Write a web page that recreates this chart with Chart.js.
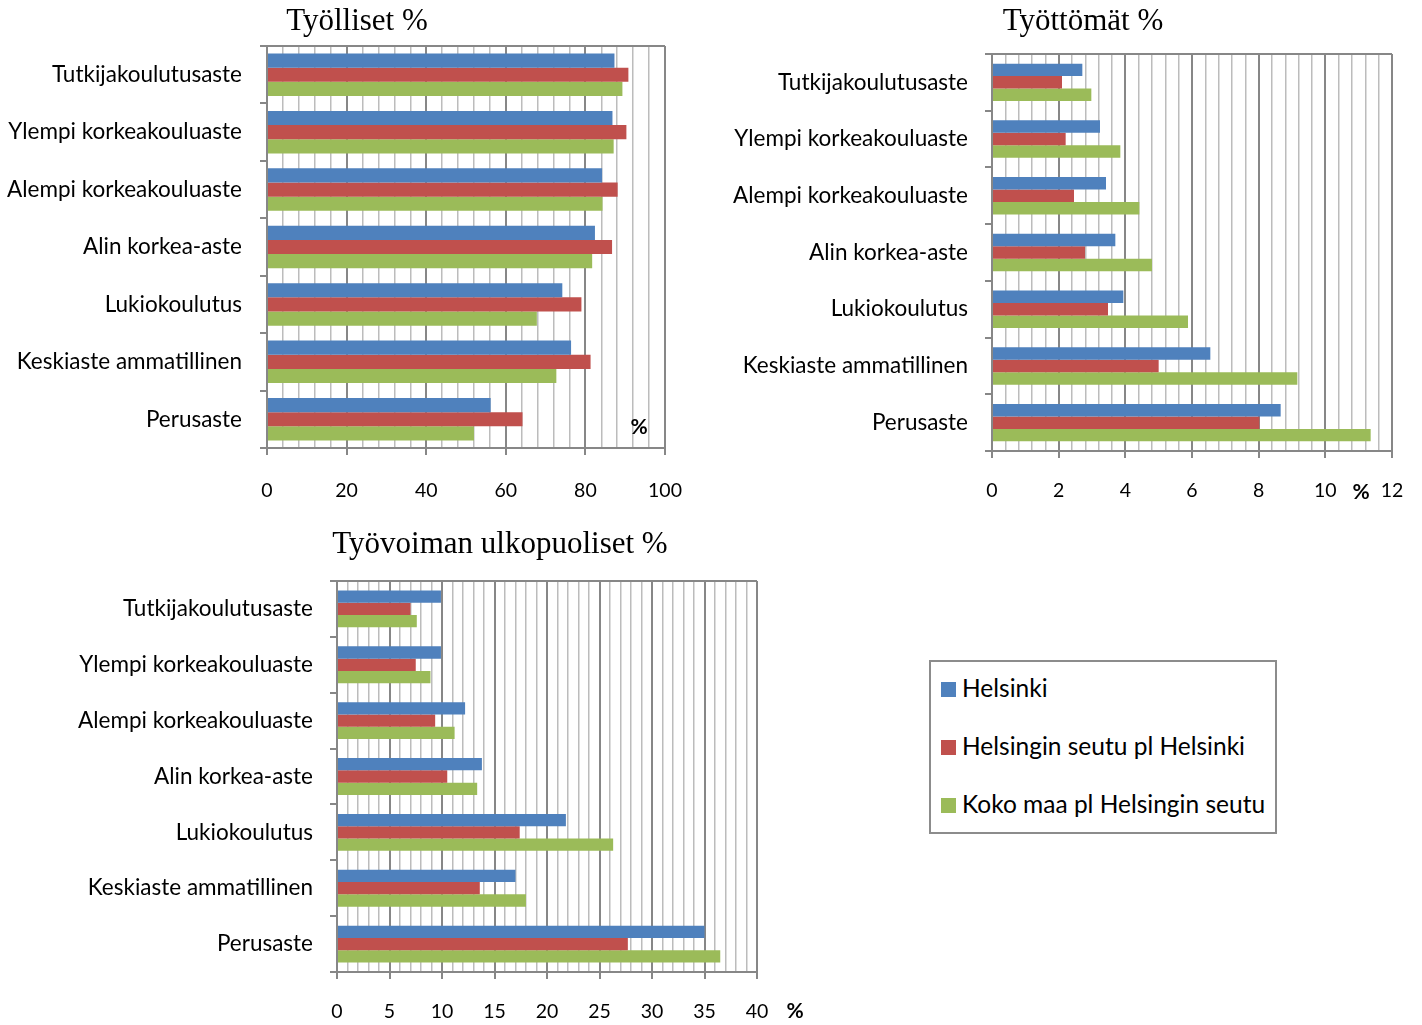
<!DOCTYPE html>
<html><head><meta charset="utf-8">
<script src="https://cdn.jsdelivr.net/npm/chart.js@4.4.0/dist/chart.umd.min.js"></script>
<style>
html,body{margin:0;padding:0;background:#fff;}
body{width:1422px;height:1025px;position:relative;overflow:hidden;font-family:Lato,sans-serif;color:#000;}
canvas{position:absolute;}
.title{position:absolute;font-family:"Liberation Serif",serif;font-size:31px;line-height:31px;white-space:nowrap;transform:translateX(-50%);}
.pct{position:absolute;font-family:Lato,sans-serif;font-weight:bold;font-size:21px;line-height:21px;transform:translate(-50%,-50%);}
#legendBox{position:absolute;left:929px;top:660px;width:348px;height:174px;box-sizing:border-box;border:2px solid #8c8c8c;}
.lsq{position:absolute;width:15px;height:15px;}
.ltx{position:absolute;font-family:Lato,sans-serif;font-size:24.5px;line-height:24px;white-space:nowrap;}
</style>
</head><body>
<canvas id="c1" width="700" height="520" style="left:0;top:0;width:700px;height:520px"></canvas>
<canvas id="c2" width="702" height="520" style="left:720px;top:0;width:702px;height:520px"></canvas>
<canvas id="c3" width="800" height="505" style="left:0;top:520px;width:800px;height:505px"></canvas>
<div class="title" style="left:357px;top:4px">Työlliset %</div>
<div class="title" style="left:1083px;top:4px">Työttömät %</div>
<div class="title" style="left:500px;top:527px">Työvoiman ulkopuoliset %</div>
<div class="pct" style="left:639px;top:425px">%</div>
<div class="pct" style="left:1361px;top:490px">%</div>
<div class="pct" style="left:795px;top:1009px">%</div>
<div id="legendBox"></div>
<div id="legendItems"></div>
<script>
const categories = ['Tutkijakoulutusaste','Ylempi korkeakouluaste','Alempi korkeakouluaste','Alin korkea-aste','Lukiokoulutus','Keskiaste ammatillinen','Perusaste'];
const seriesNames = ['Helsinki','Helsingin seutu pl Helsinki','Koko maa pl Helsingin seutu'];
const seriesColors = ['#4F81BD','#C0504D','#9BBB59'];

const tyollisetHelsinki = [87.3,86.8,84.2,82.4,74.2,76.4,56.2];
const tyollisetSeutu    = [90.8,90.3,88.1,86.7,79.0,81.3,64.2];
const tyollisetKokoMaa  = [89.3,87.1,84.3,81.7,67.8,72.7,52.0];

const tyottomatHelsinki = [2.71,3.24,3.42,3.70,3.94,6.55,8.66];
const tyottomatSeutu    = [2.10,2.21,2.46,2.79,3.48,5.00,8.02];
const tyottomatKokoMaa  = [2.98,3.85,4.42,4.80,5.88,9.16,11.36];

const ulkopuolisetHelsinki = [9.9,9.9,12.2,13.8,21.8,17.0,35.0];
const ulkopuolisetSeutu    = [7.0,7.5,9.35,10.5,17.4,13.6,27.7];
const ulkopuolisetKokoMaa  = [7.6,8.9,11.2,13.35,26.3,18.0,36.5];

const tyollisetTicks = [0,20,40,60,80,100];
const tyottomatTicks = [0,2,4,6,8,10,12];
const ulkopuolisetTicks = [0,5,10,15,20,25,30,35,40];

const GRID_MAJOR = '#878787';
const GRID_MINOR = '#bcbcbc';
const FONT = 'Lato';

const framePlugin = {
  id:'frame',
  afterDraw(chart){
    const a = chart.chartArea, ctx = chart.ctx;
    ctx.save();
    ctx.strokeStyle = GRID_MAJOR; ctx.lineWidth = 2;
    ctx.beginPath(); ctx.moveTo(a.left, a.top); ctx.lineTo(a.right, a.top); ctx.stroke();
    ctx.restore();
  }
};

function makeChart(id, values, majorTicks, minorStep, box, barPct){
  const majorStep = majorTicks[1]-majorTicks[0];
  const isMajor = v => Math.abs(v/majorStep - Math.round(v/majorStep)) < 1e-6;
  new Chart(document.getElementById(id), {
    type:'bar',
    data:{
      labels:categories,
      datasets: values.map((v,i)=>({label:seriesNames[i], data:v, backgroundColor:seriesColors[i], borderWidth:0, categoryPercentage:barPct, barPercentage:1}))
    },
    options:{
      indexAxis:'y', responsive:false, animation:false, devicePixelRatio:1,
      layout:{padding:{top:box.top, right:box.right, left:0, bottom:0}},
      plugins:{legend:{display:false}, tooltip:{enabled:false}},
      scales:{
        x:{
          type:'linear', min:majorTicks[0], max:majorTicks[majorTicks.length-1],
          ticks:{stepSize:minorStep, maxTicksLimit:1000, autoSkip:false, maxRotation:0, minRotation:0,
            callback:v => isMajor(v) ? String(Math.round(v)) : '',
            font:{family:FONT, size:19.5}, color:'#000', padding:box.xpad},
          grid:{
            color:c => (c.tick && !isMajor(c.tick.value)) ? GRID_MINOR : GRID_MAJOR,
            lineWidth:c => (c.tick && !isMajor(c.tick.value)) ? 1.5 : 2,
            tickColor:c => (c.tick && !isMajor(c.tick.value)) ? 'rgba(0,0,0,0)' : GRID_MAJOR,
            tickLength:7, drawTicks:true
          },
          border:{display:true, color:GRID_MAJOR, width:2},
          afterFit(s){ s.height = box.xh; s.paddingLeft = 0; s.paddingRight = 0; }
        },
        y:{
          type:'category', offset:true,
          grid:{offset:true, drawOnChartArea:false, drawTicks:true, tickLength:7, color:GRID_MAJOR, tickColor:GRID_MAJOR, lineWidth:2},
          border:{display:true, color:GRID_MAJOR, width:2},
          ticks:{font:{family:FONT, size:22.5}, color:'#000', padding:box.ypad, autoSkip:false},
          afterFit(s){ s.width = box.yw; s.paddingTop = 0; s.paddingBottom = 0; }
        }
      }
    },
    plugins:[framePlugin]
  });
}

makeChart('c1', [tyollisetHelsinki, tyollisetSeutu, tyollisetKokoMaa], tyollisetTicks, 4,
  {top:46, right:35, xh:72, yw:267, xpad:24, ypad:18}, 0.74);
makeChart('c2', [tyottomatHelsinki, tyottomatSeutu, tyottomatKokoMaa], tyottomatTicks, 0.4,
  {top:54, right:30, xh:69, yw:272, xpad:21, ypad:17}, 0.66);
makeChart('c3', [ulkopuolisetHelsinki, ulkopuolisetSeutu, ulkopuolisetKokoMaa], ulkopuolisetTicks, 1,
  {top:61, right:43, xh:53, yw:337, xpad:21, ypad:17}, 0.66);

// legend (HTML)
const li = document.getElementById('legendItems');
seriesNames.forEach((n,i)=>{
  const sq = document.createElement('div');
  sq.className='lsq'; sq.style.left='941px'; sq.style.top=(682+58*i)+'px'; sq.style.background=seriesColors[i];
  li.appendChild(sq);
  const tx = document.createElement('div');
  tx.className='ltx'; tx.style.left='962px'; tx.style.top=(676+58*i)+'px'; tx.textContent=n;
  li.appendChild(tx);
});
</script>
</body></html>
